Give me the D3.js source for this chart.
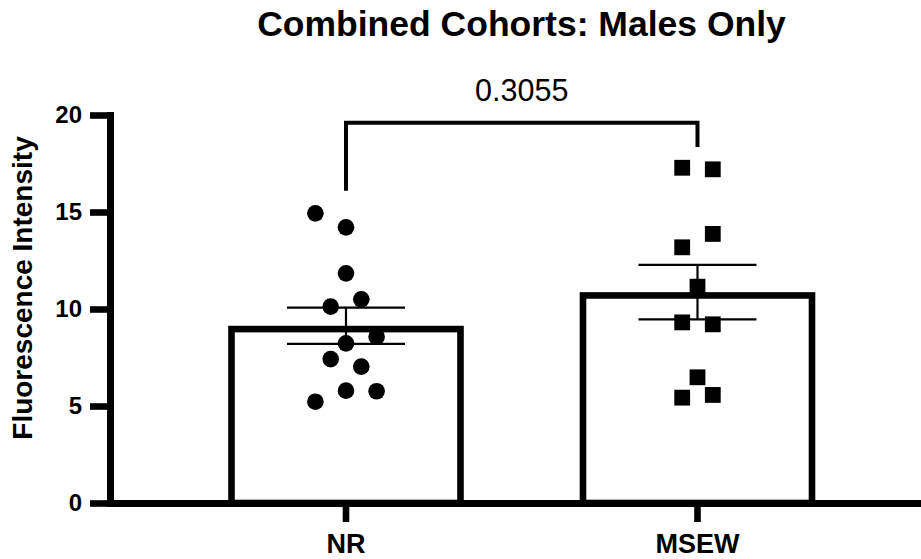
<!DOCTYPE html>
<html>
<head>
<meta charset="utf-8">
<script src="https://cdn.jsdelivr.net/npm/d3@7"></script>
<style>
  html, body { margin: 0; padding: 0; background: #fff; }
  svg { display: block; }
</style>
</head>
<body>
<svg id="chart" width="921" height="559"></svg>
<script>
// ---- Data ----
const title = "Combined Cohorts: Males Only";
const yLabel = "Fluorescence Intensity";
const categories = ["NR", "MSEW"];
const yTicks = [0, 5, 10, 15, 20];
const nrValues   = [14.93, 14.21, 11.84, 10.50, 10.12, 8.57, 8.23, 7.42, 7.03, 5.79, 5.76, 5.22];
const nrSlots    = [-2, 0, 0, 1, -1, 2, 0, -1, 1, 0, 2, -2];
const msewValues = [17.28, 17.20, 13.87, 13.18, 11.15, 9.31, 9.21, 6.48, 5.57, 5.43];
const msewSlots  = [-1, 1, 1, -1, 0, -1, 1, 0, 1, -1];
const pValueLabel = "0.3055";
const bracketLevel = 19.6;          // y value of bracket bar
const bracketLegEnds = [16.1, 18.35]; // y values where the legs end

// ---- Setup ----
const svg = d3.select("#chart");
const W = 921, H = 559;
const FONT = "'Liberation Sans', Arial, Helvetica, sans-serif";
svg.append("rect").attr("width", W).attr("height", H).attr("fill", "#fff");

const y = d3.scaleLinear().domain([0, 20]).range([503, 115]);
const x = d3.scaleBand().domain(categories).range([106.5, 921])
  .paddingInner(0).paddingOuter(0.1586).align(0.5717);
const cx = c => x(c) + x.bandwidth() / 2;
const slot = d3.scaleLinear().domain([-1, 1]).range([-15.3, 15.3]);

const groups = [
  { name: "NR", values: nrValues, slots: nrSlots, shape: d3.symbolCircle, size: 218 },
  { name: "MSEW", values: msewValues, slots: msewSlots, shape: d3.symbolSquare, size: 250 }
];
groups.forEach(g => {
  g.mean = d3.mean(g.values);
  g.sem = d3.deviation(g.values) / Math.sqrt(g.values.length);
});

// ---- Bars (outline drawn inside the bar) ----
const barOuter = 235.6, barSW = 6.6;
svg.append("g").selectAll("rect").data(groups).join("rect")
  .attr("x", d => cx(d.name) - barOuter / 2 + barSW / 2)
  .attr("width", barOuter - barSW)
  .attr("y", d => y(d.mean) + barSW / 2)
  .attr("height", d => y(0) - y(d.mean) - barSW / 2)
  .attr("fill", "#fff").attr("stroke", "#000").attr("stroke-width", barSW);

// ---- Points ----
groups.forEach(g => {
  svg.append("g").selectAll("path").data(g.values).join("path")
    .attr("d", d3.symbol().type(g.shape).size(g.size))
    .attr("transform", (v, i) => `translate(${cx(g.name) + slot(g.slots[i])},${y(v)})`)
    .attr("fill", "#000");
});

// ---- Error bars (SEM) ----
const capW = 118;
const eg = svg.append("g").attr("stroke", "#000").attr("stroke-width", 2.2);
groups.forEach(g => {
  const c = cx(g.name);
  eg.append("line").attr("x1", c).attr("x2", c)
    .attr("y1", y(g.mean - g.sem)).attr("y2", y(g.mean + g.sem));
  [g.mean - g.sem, g.mean + g.sem].forEach(v => {
    eg.append("line").attr("x1", c - capW / 2).attr("x2", c + capW / 2)
      .attr("y1", y(v)).attr("y2", y(v));
  });
});

// ---- Y axis ----
const yAxis = svg.append("g").attr("transform", "translate(110,0)")
  .call(d3.axisLeft(y).tickValues(yTicks).tickSize(20).tickSizeOuter(0).tickPadding(8));
yAxis.select(".domain").attr("stroke", "#000").attr("stroke-width", 7).attr("stroke-linecap", "square");
yAxis.selectAll(".tick line").attr("stroke", "#000").attr("stroke-width", 6.6);
yAxis.selectAll(".tick text").attr("fill", "#000")
  .style("font-family", FONT).style("font-size", "24px").style("font-weight", "bold");

// ---- X axis ----
const xAxis = svg.append("g").attr("transform", "translate(0,503)")
  .call(d3.axisBottom(x).tickSize(19).tickSizeOuter(0));
xAxis.select(".domain").attr("stroke", "#000").attr("stroke-width", 6.8);
xAxis.selectAll(".tick line").attr("stroke", "#000").attr("stroke-width", 6.6);
xAxis.selectAll(".tick text").attr("fill", "#000").attr("y", 50).attr("dy", null)
  .style("font-family", FONT).style("font-size", "27px").style("font-weight", "bold");

// ---- Significance bracket ----
const bx = [cx("NR"), cx("MSEW")];
svg.append("path")
  .attr("d", `M${bx[0]},${y(bracketLegEnds[0])}V${y(bracketLevel)}H${bx[1]}V${y(bracketLegEnds[1])}`)
  .attr("fill", "none").attr("stroke", "#000").attr("stroke-width", 4);
svg.append("text").attr("x", (bx[0] + bx[1]) / 2).attr("y", 101)
  .attr("text-anchor", "middle").attr("fill", "#000")
  .style("font-family", FONT).style("font-size", "30.5px")
  .text(pValueLabel);

// ---- Title ----
svg.append("text").attr("x", 521.5).attr("y", 36)
  .attr("text-anchor", "middle").attr("fill", "#000")
  .style("font-family", FONT).style("font-size", "35.5px").style("font-weight", "bold")
  .text(title);

// ---- Y label ----
svg.append("text").attr("transform", "translate(32,288) rotate(-90)")
  .attr("text-anchor", "middle").attr("fill", "#000")
  .style("font-family", FONT).style("font-size", "28px").style("font-weight", "bold")
  .text(yLabel);
</script>
</body>
</html>
